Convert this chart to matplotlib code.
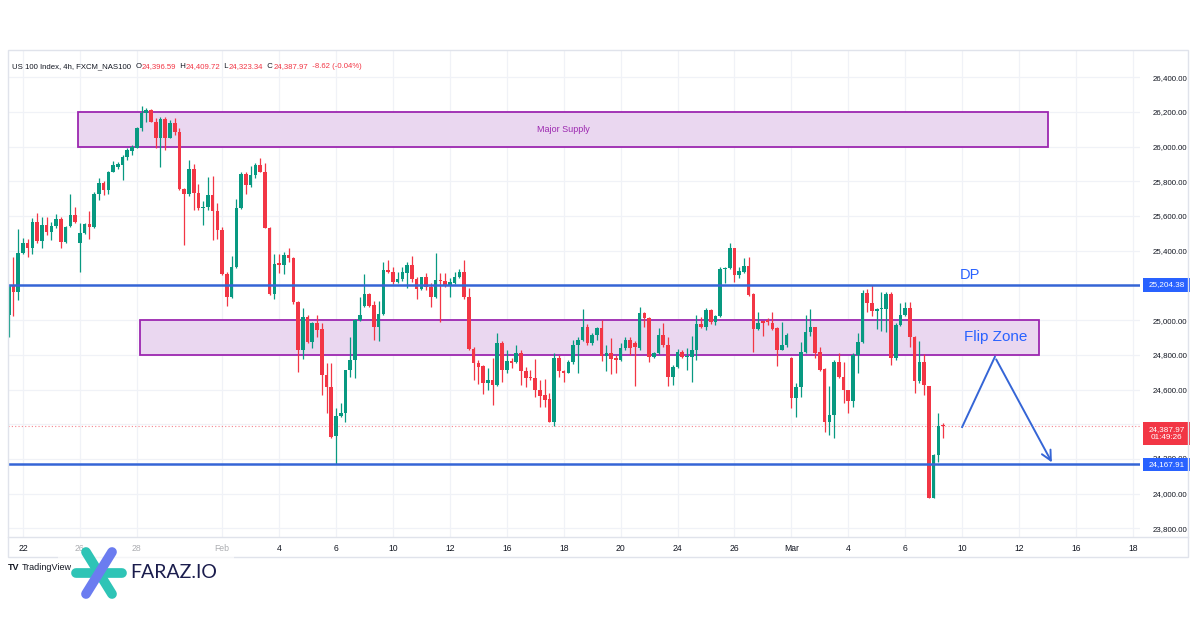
import matplotlib
matplotlib.use("Agg")
import matplotlib.pyplot as plt
import numpy as np
from matplotlib.patches import Rectangle
from matplotlib import transforms

plt.rcParams['font.family'] = ['Liberation Sans', 'DejaVu Sans']

# 4h candles, US 100 Index (FXCM_NAS100), from ~Jan 21 to Mar 9
opens = [25030, 25199, 25161, 25386, 25443, 25418, 25564, 25455, 25549, 25507, 25545, 25583,
         25453, 25545, 25606, 25443, 25501, 25553, 25537, 25726, 25789, 25751, 25856, 25885,
         25895, 25943, 25975, 25995, 26106, 26192, 26212, 26144, 26052, 26160, 26052, 26135,
         26083, 25756, 25726, 25872, 25731, 25645, 25654, 25722, 25630, 25520, 25266, 25136,
         25309, 25645, 25843, 25776, 25837, 25895, 25856, 25533, 25149, 25328, 25318, 25376,
         25357, 25103, 24828, 25020, 24876, 24982, 24948, 24684, 24613, 24333, 24448, 24467,
         24713, 24771, 25001, 25082, 25151, 25088, 24963, 25036, 25289, 25280, 25222, 25236,
         25274, 25318, 25236, 25178, 25247, 25193, 25132, 25232, 25228, 25203, 25216, 25247,
         25276, 25136, 24832, 24752, 24736, 24636, 24656, 24627, 24867, 24713, 24767, 24761,
         24813, 24704, 24675, 24665, 24598, 24569, 24544, 24415, 24780, 24704, 24694, 24761,
         24857, 24886, 24963, 24871, 24915, 24953, 24794, 24813, 24780, 24771, 24838, 24886,
         24867, 24838, 25040, 25011, 24786, 24813, 24915, 24857, 24675, 24732, 24819, 24786,
         24790, 24825, 24978, 24963, 25059, 24992, 25024, 25293, 25301, 25414, 25261, 25280,
         25313, 25151, 24948, 24997, 25001, 24986, 24953, 24828, 24857, 24780, 24550, 24617,
         24819, 24934, 24959, 24819, 24717, 24410, 24454, 24761, 24675, 24598, 24536, 24800,
         24876, 25155, 25101, 25055, 25063, 25063, 25151, 24780, 24973, 25030, 25069, 24905,
         24652, 24761, 24621, 23977, 24223, 24396.59]
highs = [25205, 25366, 25526, 25476, 25468, 25587, 25616, 25597, 25597, 25568, 25610, 25597,
         25545, 25726, 25654, 25558, 25558, 25630, 25741, 25818, 25802, 25860, 25920, 25910,
         25952, 25991, 26010, 26116, 26237, 26225, 26217, 26163, 26173, 26173, 26154, 26167,
         26110, 25760, 25923, 25898, 25783, 25687, 25827, 25833, 25674, 25539, 25280, 25372,
         25699, 25852, 25852, 25891, 25904, 25933, 25904, 25539, 25380, 25380, 25395, 25418,
         25365, 25111, 25068, 25030, 24992, 25030, 24982, 24752, 24752, 24494, 24525, 24713,
         24901, 25005, 25136, 25266, 25159, 25113, 25113, 25337, 25347, 25309, 25280, 25309,
         25337, 25370, 25251, 25251, 25270, 25213, 25386, 25270, 25274, 25241, 25280, 25293,
         25347, 25184, 24848, 24771, 24742, 24723, 24780, 24925, 24877, 24825, 24780, 24857,
         24828, 24732, 24713, 24775, 24656, 24659, 24579, 24809, 24800, 24713, 24771, 24886,
         24901, 25063, 24978, 24925, 24963, 25001, 24857, 24896, 24800, 24867, 24901, 24901,
         24877, 25074, 25049, 25017, 24819, 24953, 24982, 24905, 24742, 24832, 24828, 24838,
         24909, 25030, 25017, 25069, 25063, 25030, 25305, 25309, 25443, 25414, 25305, 25357,
         25366, 25155, 25049, 24997, 25011, 25049, 24959, 24992, 24924, 24790, 24636, 24876,
         25030, 25063, 24963, 24844, 24723, 24621, 24771, 24809, 24761, 24598, 24809, 24928,
         25174, 25178, 25203, 25069, 25165, 25165, 25165, 24982, 25101, 25107, 25107, 24909,
         24882, 24805, 24621, 24229, 24463, 24409.72]
lows = [24905, 25021, 25117, 25380, 25366, 25380, 25443, 25418, 25491, 25462, 25533, 25418,
        25443, 25539, 25558, 25280, 25495, 25468, 25533, 25693, 25722, 25726, 25852, 25872,
        25808, 25923, 25952, 25991, 26090, 26144, 26140, 25995, 25885, 25981, 26048, 26067,
        25751, 25434, 25718, 25635, 25635, 25549, 25635, 25462, 25468, 25261, 25084, 25130,
        25299, 25641, 25726, 25770, 25822, 25852, 25530, 25145, 25122, 25270, 25264, 25334,
        25092, 24700, 24777, 24867, 24842, 24900, 24569, 24463, 24319, 24168, 24444, 24410,
        24675, 24665, 24995, 25078, 25074, 24886, 24882, 25030, 25270, 25209, 25213, 25228,
        25184, 25222, 25120, 25174, 25174, 25078, 25126, 24992, 25193, 25136, 25209, 25241,
        25120, 24825, 24656, 24632, 24575, 24598, 24511, 24621, 24646, 24698, 24723, 24755,
        24627, 24617, 24656, 24559, 24502, 24502, 24410, 24387, 24675, 24646, 24694, 24748,
        24694, 24877, 24857, 24857, 24886, 24767, 24704, 24690, 24694, 24767, 24825, 24800,
        24621, 24828, 24963, 24761, 24780, 24805, 24848, 24621, 24627, 24723, 24780, 24713,
        24646, 24771, 24953, 24944, 24978, 24973, 25017, 25216, 25293, 25222, 25241, 25274,
        25140, 24819, 24944, 24909, 24973, 24944, 24736, 24825, 24848, 24492, 24444, 24559,
        24813, 24909, 24780, 24709, 24358, 24339, 24319, 24665, 24521, 24467, 24502, 24694,
        24867, 25049, 25024, 24948, 24940, 24934, 24742, 24771, 24967, 25024, 24848, 24579,
        24636, 24569, 23974, 23974, 24185, 24323.34]
closes = [25199, 25161, 25386, 25443, 25418, 25564, 25457, 25549, 25507, 25545, 25583, 25453,
          25539, 25606, 25564, 25501, 25553, 25537, 25726, 25789, 25751, 25856, 25895, 25898,
          25943, 25981, 26000, 26106, 26192, 26212, 26144, 26052, 26160, 26052, 26135, 26083,
          25756, 25726, 25872, 25731, 25645, 25654, 25722, 25630, 25520, 25266, 25136, 25309,
          25645, 25843, 25776, 25837, 25895, 25856, 25533, 25149, 25322, 25318, 25376, 25357,
          25103, 24828, 25020, 24876, 24982, 24944, 24684, 24613, 24329, 24448, 24467, 24713,
          24771, 25001, 25030, 25151, 25082, 24963, 25036, 25289, 25280, 25222, 25236, 25280,
          25318, 25236, 25178, 25247, 25193, 25132, 25232, 25228, 25203, 25222, 25247, 25276,
          25136, 24832, 24752, 24729, 24636, 24656, 24627, 24867, 24713, 24767, 24755, 24813,
          24704, 24665, 24665, 24598, 24563, 24540, 24415, 24780, 24704, 24694, 24761, 24857,
          24886, 24963, 24871, 24915, 24953, 24794, 24813, 24775, 24771, 24838, 24886, 24838,
          24848, 25040, 25011, 24786, 24813, 24915, 24857, 24675, 24732, 24819, 24786, 24794,
          24825, 24978, 24963, 25059, 24992, 25024, 25293, 25301, 25414, 25261, 25286, 25313,
          25145, 24948, 24986, 24986, 24992, 24948, 24828, 24857, 24915, 24550, 24617, 24819,
          24934, 24959, 24813, 24713, 24410, 24454, 24761, 24675, 24598, 24536, 24800, 24876,
          25155, 25101, 25055, 25063, 25069, 25151, 24780, 24973, 25030, 25069, 24905, 24652,
          24761, 24627, 23977, 24223, 24387, 24387.97]

# time axis labels (bar index where each label sits)
tick_pos = [3, 15, 27, 45, 57, 69, 81, 93, 105, 117, 129, 141, 153, 165, 177, 189, 201, 213, 225, 237]
tick_labels = ['22', '26', '28', 'Feb', '4', '6', '10', '12', '16', '18',
               '20', '24', '26', 'Mar', '4', '6', '10', '12', '16', '18']
price_ticks = list(range(23800, 26401, 200))
hidden_ticks = [25200, 24400, 24200]   # covered by the price tags

dp_level = 25204.38
support_level = 24167.91
last_price = 24387.97
countdown = '01:49:26'
supply_zone = (26000, 26200)
flip_zone = (24800, 25000)
# projected path: current -> flip zone -> support
path_x = [201.0, 207.9, 220.2]
path_y = [24384, 24788, 24166]

UP = '#089981'
DOWN = '#f23645'
BLUE = '#3565d6'
TAGBLUE = '#2962ff'
PURPLE = '#9c27b0'
TXT = '#131722'

fig = plt.figure(figsize=(12, 6.3), dpi=100)
fig.patch.set_facecolor('white')
ax = fig.add_axes([8 / 1200, 93 / 630, 1132 / 1200, 487 / 630])
ax.set_xlim(-0.15, 238.5)
ax.set_ylim(23750, 26557)

idx = np.arange(len(opens))
o = np.array(opens)
c = np.array(closes)
h = np.array(highs)
l = np.array(lows)
cols = np.where(c >= o, UP, DOWN)
body_h = np.maximum(np.abs(c - o), 5)
ax.vlines(idx, l, h, colors=cols, lw=0.9, zorder=3)
ax.bar(idx, body_h, bottom=np.minimum(o, c), width=0.76, color=cols, linewidth=0, zorder=3)

# zones
ax.add_patch(Rectangle((14.6, supply_zone[0]), 219.1 - 14.6, supply_zone[1] - supply_zone[0],
                       facecolor='#ead7f0', edgecolor=PURPLE, lw=1.3, zorder=2))
ax.text((14.6 + 219.1) / 2, sum(supply_zone) / 2, 'Major Supply', color=PURPLE,
        fontsize=6.5, ha='center', va='center', zorder=4)
ax.add_patch(Rectangle((27.7, flip_zone[0]), 217.3 - 27.7, flip_zone[1] - flip_zone[0],
                       facecolor='#ead7f0', edgecolor=PURPLE, lw=1.3, zorder=2))
ax.text(208, sum(flip_zone) / 2, 'Flip Zone', color=TAGBLUE, fontsize=11,
        ha='center', va='center', zorder=4)

# levels
ax.axhline(dp_level, color=BLUE, lw=1.8, zorder=4)
ax.axhline(support_level, color=BLUE, lw=1.8, zorder=4)
ax.axhline(last_price, color=DOWN, lw=0.8, ls=(0, (1, 2)), alpha=0.6, zorder=1)
ax.text(202.7, dp_level + 14, 'DP', color=TAGBLUE, fontsize=10.5, ha='center', va='bottom')

# projection arrow
ax.plot(path_x[:2], path_y[:2], color=BLUE, lw=1.4, zorder=4)
ax.annotate('', xy=(path_x[2], path_y[2]), xytext=(path_x[1], path_y[1]),
            arrowprops=dict(arrowstyle='->,head_length=0.7,head_width=0.35', color=BLUE, lw=1.4),
            zorder=4)

# axes styling
for s in ax.spines.values():
    s.set_visible(False)
ax.set_xticks(tick_pos)
ax.set_xticklabels(tick_labels)
ax.set_yticks(price_ticks)
ax.set_yticklabels(['' if p in hidden_ticks else '{:,.2f}'.format(p) for p in price_ticks])
ax.yaxis.tick_right()
ax.tick_params(axis='both', length=0, labelsize=6.2, colors=TXT)
ax.tick_params(axis='y', pad=9, labelsize=5.7)
ax.tick_params(axis='x', pad=5)
ax.grid(True, color='#f0f2f7', lw=0.9, zorder=0)
ax.set_axisbelow(True)

tr = transforms.blended_transform_factory(ax.transAxes, ax.transData)
# the 24,200 label peeks out above the support tag
ax.text(1.0115, 24200, '{:,.2f}'.format(24200), transform=tr, color=TXT, fontsize=5.7,
        ha='left', va='center', clip_on=False, zorder=5)

# price tags on the right scale
tag_x0 = 1.0025
tag_w = 47 / 1132
for lvl in (dp_level, support_level):
    ax.add_patch(Rectangle((tag_x0, lvl - 40), tag_w, 80, transform=tr, fc=TAGBLUE, ec='none',
                           clip_on=False, zorder=6))
    ax.text(tag_x0 + tag_w / 2, lvl, '{:,.2f}'.format(lvl), transform=tr, color='white',
            fontsize=5.9, ha='center', va='center', clip_on=False, zorder=7)
ax.add_patch(Rectangle((tag_x0, last_price - 105), tag_w, 130, transform=tr, fc=DOWN, ec='none',
                       clip_on=False, zorder=6))
ax.text(tag_x0 + tag_w / 2, last_price - 40, '{:,.2f}\n{}'.format(last_price, countdown),
        transform=tr, color='white', fontsize=5.9, ha='center', va='center', clip_on=False,
        linespacing=1.15, zorder=7)

# overlay in pixel units for frame, legend line and watermark
ov = fig.add_axes([0, 0, 1, 1], zorder=5)
ov.set_xlim(0, 1200)
ov.set_ylim(630, 0)
ov.axis('off')
ov.patch.set_alpha(0)
ov.add_patch(Rectangle((8, 50), 1180, 507, fill=False, ec='#e0e3eb', lw=1))
ov.plot([8, 1188], [537, 537], color='#e0e3eb', lw=1)

# header line
parts = [('US 100 Index, 4h, FXCM_NAS100  ', TXT), ('O', TXT), ('24,396.59', DOWN),
         ('  H', TXT), ('24,409.72', DOWN), ('  L', TXT), ('24,323.34', DOWN),
         ('  C', TXT), ('24,387.97', DOWN), ('  -8.62 (-0.04%)', DOWN)]
prev = ov.text(12, 67, parts[0][0], color=parts[0][1], fontsize=5.6, va='center', ha='left')
for txt, col in parts[1:]:
    prev = ov.annotate(txt, xy=(1, 0), xycoords=prev, va='bottom', ha='left',
                       color=col, fontsize=5.6)

# watermark / logos
ov.text(8, 567, 'TV', fontsize=6.5, fontweight='bold', color=TXT, va='center')
ov.text(22, 567, 'TradingView', fontsize=6.5, color=TXT, va='center')
ov.add_patch(Rectangle((58, 538), 176, 62, fc='white', ec='none', alpha=0.65))
ov.plot([76, 122], [573, 573], color='#2ec4b6', lw=7, solid_capstyle='round')
ov.plot([86, 112], [552, 594], color='#2ec4b6', lw=7, solid_capstyle='round')
ov.plot([112, 86], [552, 594], color='#6b7cf0', lw=7, solid_capstyle='round')
ov.text(130, 573, 'FARAZ.IO', fontsize=14, color='#1b1d4d', va='center', ha='left',
        family=['Lato', 'DejaVu Sans'])

fig.savefig('out.png', dpi=100)
